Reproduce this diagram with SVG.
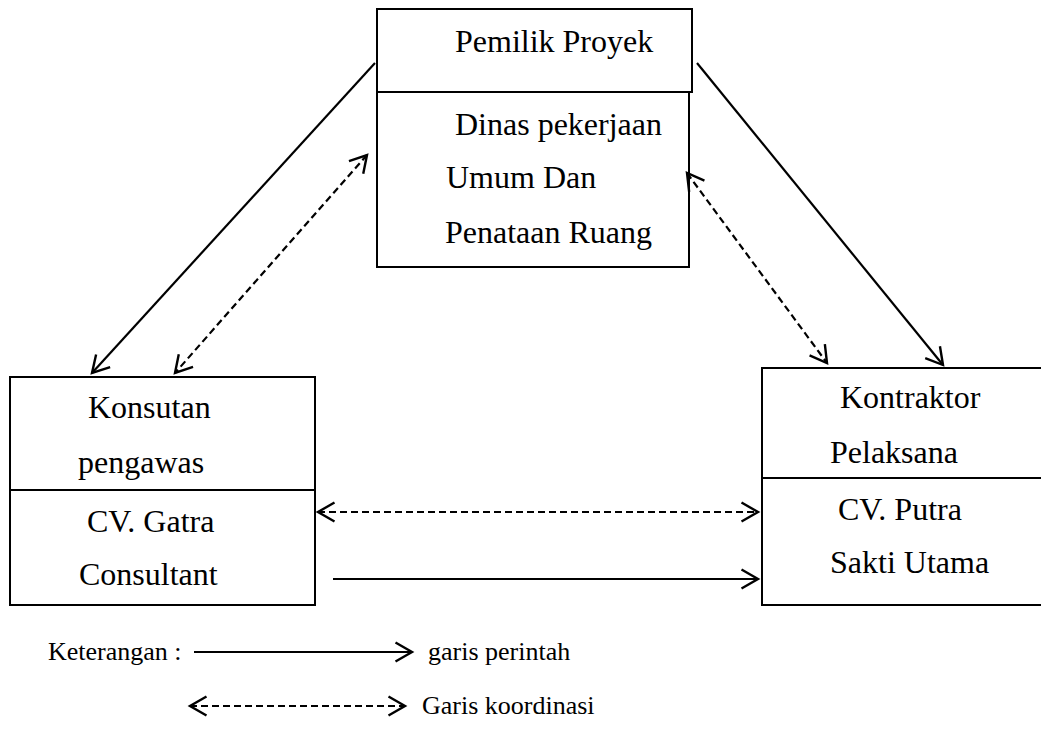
<svg xmlns="http://www.w3.org/2000/svg" width="1041" height="735" viewBox="0 0 1041 735">
<style>
.box{fill:#fff;stroke:#000;stroke-width:2}
.solid{fill:none;stroke:#000;stroke-width:2.2}
.dash{fill:none;stroke:#000;stroke-width:2.2;stroke-dasharray:7 4}
</style>
<defs>
<marker id="ah" markerUnits="userSpaceOnUse" markerWidth="24" markerHeight="24" refX="18" refY="11" orient="auto-start-reverse" viewBox="0 0 24 24">
<path d="M1.5,1.5 L18,11 L1.5,20.5" fill="none" stroke="#000" stroke-width="2.4"/>
</marker>
</defs>
<rect width="1041" height="735" fill="#fff"/>
<g id="pemilik" font-family="Liberation Serif, DejaVu Serif, serif" font-size="32" fill="#000">
<rect class="box" x="377" y="9" width="315" height="83"/>
<rect class="box" x="377" y="92" width="312" height="175"/>
<text x="455" y="52">Pemilik Proyek</text>
<text x="455" y="135">Dinas pekerjaan</text>
<text x="446" y="188">Umum Dan</text>
<text x="445" y="243">Penataan Ruang</text>
</g>
<g id="konsultan" font-family="Liberation Serif, DejaVu Serif, serif" font-size="32" fill="#000">
<rect class="box" x="10" y="377" width="305" height="113"/>
<rect class="box" x="10" y="490" width="305" height="115"/>
<text x="88" y="418">Konsutan</text>
<text x="78" y="473">pengawas</text>
<text x="87" y="532">CV. Gatra</text>
<text x="79" y="585">Consultant</text>
</g>
<g id="kontraktor" font-family="Liberation Serif, DejaVu Serif, serif" font-size="32" fill="#000">
<rect class="box" x="762" y="368" width="290" height="110"/>
<rect class="box" x="762" y="478" width="290" height="127"/>
<text x="840" y="408">Kontraktor</text>
<text x="830" y="463">Pelaksana</text>
<text x="838" y="520">CV. Putra</text>
<text x="830" y="573">Sakti Utama</text>
</g>
<g id="connectors">
<line class="solid" x1="375" y1="63" x2="92" y2="373" marker-end="url(#ah)"/>
<line class="dash" x1="367" y1="155" x2="175" y2="373" marker-start="url(#ah)" marker-end="url(#ah)"/>
<line class="solid" x1="697" y1="63" x2="943" y2="365" marker-end="url(#ah)"/>
<line class="dash" x1="687" y1="173" x2="827" y2="363" marker-start="url(#ah)" marker-end="url(#ah)"/>
<line class="dash" x1="318" y1="512" x2="758" y2="512" marker-start="url(#ah)" marker-end="url(#ah)"/>
<line class="solid" x1="333" y1="579" x2="758" y2="579" marker-end="url(#ah)"/>
</g>
<g id="legend" font-family="Liberation Serif, DejaVu Serif, serif" font-size="26" fill="#000">
<text x="48" y="660">Keterangan :</text>
<line class="solid" x1="194" y1="652" x2="412" y2="652" marker-end="url(#ah)"/>
<text x="428" y="660">garis perintah</text>
<line class="dash" x1="190" y1="706" x2="405" y2="706" marker-start="url(#ah)" marker-end="url(#ah)"/>
<text x="422" y="714">Garis koordinasi</text>
</g>
</svg>
